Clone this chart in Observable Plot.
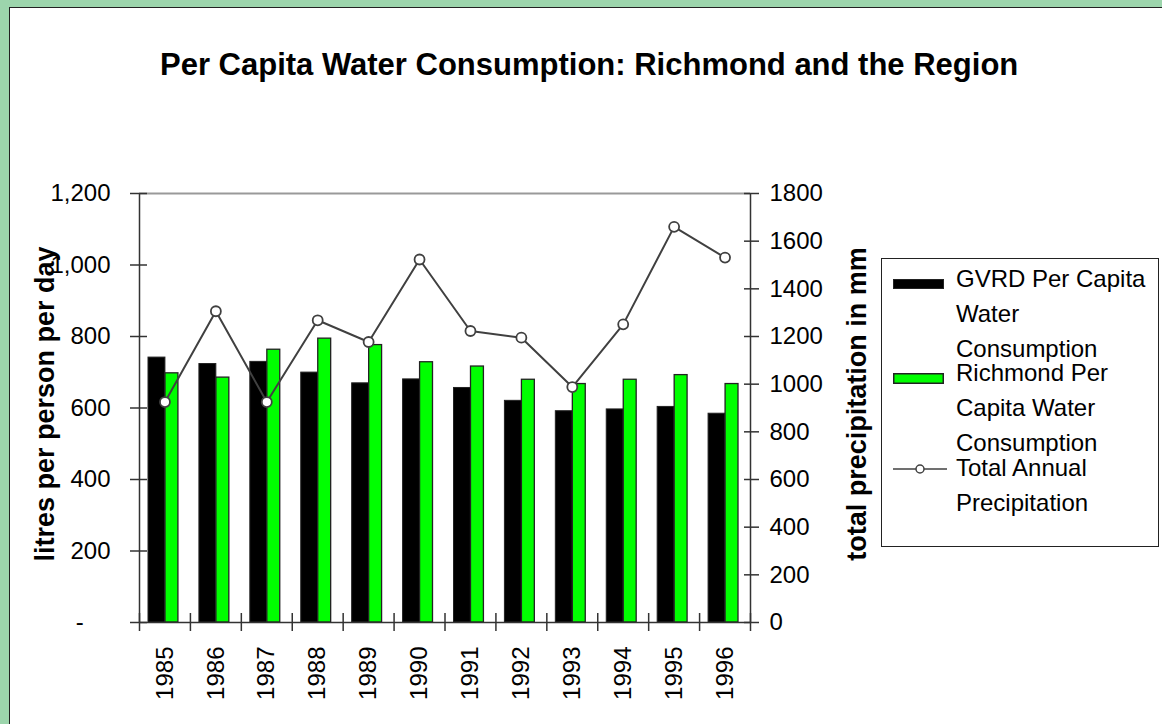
<!DOCTYPE html>
<html>
<head>
<meta charset="utf-8">
<script src="https://cdn.jsdelivr.net/npm/d3@7"></script>
<script src="https://cdn.jsdelivr.net/npm/@observablehq/plot@0.6"></script>
<style>
  html, body { margin: 0; padding: 0; }
  body { width: 1162px; height: 724px; position: relative; overflow: hidden;
         background: #9cd5ac; font-family: "Liberation Sans", Arial, sans-serif; color: #000; }
  #panel { position: absolute; left: 9px; top: 7px; right: 0; bottom: 0; background: #fff;
           border-left: 1.5px solid #222; border-top: 1.5px solid #222; }
  #title { position: absolute; left: 160px; top: 49px; font-weight: bold; font-size: 31px;
           line-height: 31px; white-space: nowrap; }
  #chart { position: absolute; left: 0; top: 0; }
  #legend { position: absolute; left: 881px; top: 258px; width: 278px; height: 289px;
            box-sizing: border-box; border: 1.5px solid #222; background: #fff; }
  .item { position: absolute; left: 956px; width: 204px; font-size: 24px; line-height: 35px; }
  .sw { position: absolute; }
</style>
</head>
<body>
<div id="panel"></div>
<div id="title">Per Capita Water Consumption: Richmond and the Region</div>
<div id="chart"></div>
<div id="legend"></div>
<div id="legendItems"></div>
<script>
// ---- data ----
const years = [1985, 1986, 1987, 1988, 1989, 1990, 1991, 1992, 1993, 1994, 1995, 1996];
const gvrd = [741, 723, 729, 699, 669, 680, 656, 620, 591, 596, 603, 584];
const richmond = [697, 685, 763, 794, 776, 728, 716, 679, 667, 679, 692, 667];
const precip = [925, 1306, 925, 1268, 1177, 1523, 1223, 1195, 988, 1251, 1660, 1531];
const leftTicks = [0, 200, 400, 600, 800, 1000, 1200];
const rightTicks = [0, 200, 400, 600, 800, 1000, 1200, 1400, 1600, 1800];
const seriesNames = ["GVRD Per Capita Water Consumption", "Richmond Per Capita Water Consumption", "Total Annual Precipitation"];
const leftLabel = "litres per person per day";
const rightLabel = "total precipitation in mm";

const leftMax = d3.max(leftTicks), rightMax = d3.max(rightTicks);
const k = leftMax / rightMax; // right-axis units -> left-axis units
const data = years.map((year, i) => ({i, year, gvrd: gvrd[i], richmond: richmond[i], precip: precip[i] * k}));
const n = years.length;
const lineColor = "#404040", axisColor = "#333";
const fmtLeft = v => v === 0 ? "-\u2007\u2007" : d3.format(",")(v);

const chart = Plot.plot({
  width: 1162, height: 724,
  marginLeft: 139, marginRight: 412, marginTop: 193, marginBottom: 102,
  style: {background: "transparent", fontFamily: "Liberation Sans, Arial, sans-serif", fontSize: "24px", color: "#000", overflow: "visible"},
  x: {type: "linear", domain: [0, n], axis: null},
  y: {domain: [0, leftMax], axis: null},
  marks: [
    Plot.ruleY([leftMax], {stroke: "#999", strokeWidth: 2}),
    Plot.rectY(data, {x1: "i", x2: d => d.i + 1, y: "gvrd", fill: "#000", stroke: "#222", strokeWidth: 1, insetLeft: 9, insetRight: 25}),
    Plot.rectY(data, {x1: "i", x2: d => d.i + 1, y: "richmond", fill: "#00ff00", stroke: "#222", strokeWidth: 1.3, insetLeft: 26, insetRight: 12}),
    Plot.ruleX([0, n], {stroke: axisColor, strokeWidth: 1.5}),
    Plot.ruleY([0], {stroke: axisColor, strokeWidth: 1.5}),
    Plot.axisY(leftTicks, {anchor: "left", tickSize: 17, dx: 8, tickFormat: () => "", label: null, stroke: axisColor, strokeWidth: 1.5}),
    Plot.axisY(leftTicks, {anchor: "left", tickSize: 0, tickPadding: 29, tickFormat: fmtLeft, label: null, fill: "#000", fontSize: 24}),
    Plot.axisY(rightTicks.map(v => v * k), {anchor: "right", tickSize: 15, dx: -7, tickFormat: () => "", label: null, stroke: axisColor, strokeWidth: 1.5}),
    Plot.axisY(rightTicks.map(v => v * k), {anchor: "right", tickSize: 0, tickPadding: 19, tickFormat: v => String(Math.round(v / k)), label: null, fill: "#000", fontSize: 24}),
    Plot.axisX(d3.range(n + 1), {anchor: "bottom", tickSize: 18, dy: -9, tickFormat: () => "", label: null, stroke: axisColor, strokeWidth: 1.5}),
    Plot.text(data, {x: d => d.i + 0.5, text: d => String(d.year), frameAnchor: "bottom", rotate: -90, textAnchor: "end", lineAnchor: "middle", dy: 24, fontSize: 24, fill: "#000"}),
    Plot.line(data, {x: d => d.i + 0.5, y: "precip", stroke: lineColor, strokeWidth: 2}),
    Plot.dot(data, {x: d => d.i + 0.5, y: "precip", r: 5, fill: "#fff", stroke: lineColor, strokeWidth: 1.8}),
    Plot.text([leftLabel], {text: d => d, frameAnchor: "left", rotate: -90, textAnchor: "middle", lineAnchor: "bottom", dx: -86, dy: -4, fontSize: 27, fontWeight: "bold", fill: "#000"}),
    Plot.text([rightLabel], {text: d => d, frameAnchor: "right", rotate: -90, textAnchor: "middle", lineAnchor: "bottom", dx: 115, dy: -4, fontSize: 27, fontWeight: "bold", fill: "#000"})
  ]
});
document.getElementById("chart").appendChild(chart);

// ---- legend (HTML) ----
const legendTops = [261, 355, 450];
const holder = document.getElementById("legendItems");
seriesNames.forEach((name, j) => {
  const div = document.createElement("div");
  div.className = "item";
  div.style.top = legendTops[j] + "px";
  div.textContent = name;
  holder.appendChild(div);
});
const ns = "http://www.w3.org/2000/svg";
function sw(x, y, w, h) {
  const s = document.createElementNS(ns, "svg");
  s.setAttribute("class", "sw");
  s.setAttribute("width", w); s.setAttribute("height", h);
  s.style.left = x + "px"; s.style.top = y + "px";
  holder.appendChild(s);
  return s;
}
let s1 = sw(893, 279, 51, 10);
s1.innerHTML = `<rect x="0.5" y="0.5" width="50" height="9" fill="#000" stroke="#222"/>`;
let s2 = sw(893, 373, 51, 11);
s2.innerHTML = `<rect x="0.75" y="0.75" width="49.5" height="9.5" fill="#00ff00" stroke="#222" stroke-width="1.5"/>`;
let s3 = sw(893, 462, 55, 14);
s3.innerHTML = `<line x1="0" y1="7" x2="54" y2="7" stroke="${lineColor}" stroke-width="1.5"/><circle cx="27" cy="7" r="4" fill="#fff" stroke="${lineColor}" stroke-width="1.5"/>`;
</script>
</body>
</html>
